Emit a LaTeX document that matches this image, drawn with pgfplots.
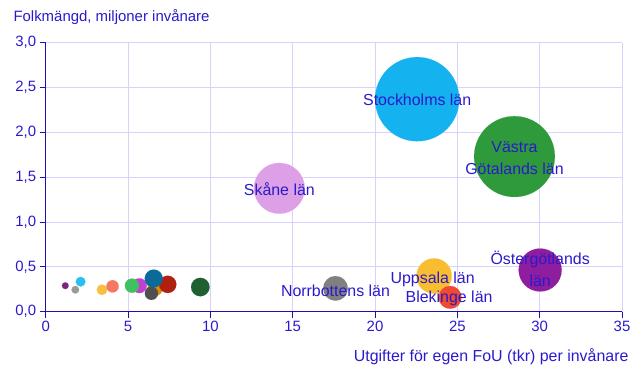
\documentclass[border=0pt]{standalone}
\usepackage{fontspec}
\setmainfont{Liberation Sans}
\usepackage{pgfplots}
\pgfplotsset{compat=1.18}
\definecolor{txt}{HTML}{2A1ACB}
\definecolor{axc}{HTML}{1E0FAF}
\definecolor{grd}{HTML}{D9D2FF}
\definecolor{cSth}{HTML}{14B2EE}
\definecolor{cVG}{HTML}{2F9A3C}
\definecolor{cSk}{HTML}{DDA0E6}
\definecolor{cOg}{HTML}{8E1E9E}
\definecolor{cUp}{HTML}{F8BE30}
\definecolor{cBl}{HTML}{F04A30}
\definecolor{cNb}{HTML}{808080}
\definecolor{cA}{HTML}{7B2481}
\definecolor{cB}{HTML}{9A9A9A}
\definecolor{cC}{HTML}{28C0F0}
\definecolor{cD}{HTML}{F8C040}
\definecolor{cE}{HTML}{F57860}
\definecolor{cF}{HTML}{40C060}
\definecolor{cG}{HTML}{C040D0}
\definecolor{cH}{HTML}{D89000}
\definecolor{cI}{HTML}{505050}
\definecolor{cJ}{HTML}{0A6A98}
\definecolor{cK}{HTML}{B02010}
\definecolor{cL}{HTML}{1E6030}

\pgfplotsset{bub/.style={scatter, only marks, mark=*,
  scatter/use mapped color={draw=#1, fill=#1, line width=0.1pt},
  visualization depends on={5.77*sqrt(\thisrow{z}) \as \rad},
  scatter/@pre marker code/.append style={/tikz/mark size=\rad}}}

\begin{document}
\begin{tikzpicture}[font=\fontsize{15}{18}\selectfont]
\useasboundingbox (-45.7bp,-66.3bp) rectangle (597.3bp,311.7bp);
\begin{axis}[
  at={(0,0)}, anchor=south west,
  scale only axis, width=576.3bp, height=269bp,
  xmin=0, xmax=35, ymin=0, ymax=3,
  xtick={0,5,...,35}, ytick={0,0.5,...,3},
  axis x line*=bottom, axis y line*=left,
  axis line style={axc, line width=1.2pt, -},
  tick align=outside, major tick length=6bp,
  tick style={axc, line width=1pt},
  grid=major, major grid style={grd, line width=0.9pt},
  /pgf/number format/assume math mode=true,
  yticklabel style={/pgf/number format/.cd, use comma, fixed, fixed zerofill, precision=1},
  ticklabel style={txt, font=\fontsize{15}{18}\selectfont},
  xlabel={Utgifter för egen FoU (tkr) per invånare},
  xlabel style={at={(axis description cs:1,0)}, anchor=base east, xshift=10bp, yshift=-50bp, txt, font=\fontsize{16}{19}\selectfont},
  ylabel={Folkmängd, miljoner invånare},
  ylabel style={rotate=-90, at={(axis description cs:0,1)}, anchor=base west, xshift=-35.7bp, yshift=20.7bp, txt},
  table/row sep=\\,
]
% x = FoU per capita (tkr), y = population (millions), z = total FoU (bubble area)
\addplot[bub=cSth] table {x y z\\ 22.56 2.37 53.5\\};
\addplot[bub=cVG]  table {x y z\\ 28.47 1.73 49.3\\};
\addplot[bub=cSk]  table {x y z\\ 14.19 1.376 19.5\\};
\addplot[bub=cOg]  table {x y z\\ 30.03 0.465 13.96\\};
\addplot[bub=cUp]  table {x y z\\ 23.59 0.398 9.39\\};
\addplot[bub=cBl]  table {x y z\\ 24.56 0.16 3.93\\};
\addplot[bub=cNb]  table {x y z\\ 17.60 0.26 4.58\\};
\addplot[bub=cA]   table {x y z\\ 1.19 0.29 0.345\\};
\addplot[bub=cB]   table {x y z\\ 1.80 0.245 0.441\\};
\addplot[bub=cC]   table {x y z\\ 2.12 0.335 0.71\\};
\addplot[bub=cD]   table {x y z\\ 3.42 0.245 0.838\\};
\addplot[bub=cE]   table {x y z\\ 4.06 0.283 1.149\\};
\addplot[bub=cG]   table {x y z\\ 5.69 0.29 1.65\\};
\addplot[bub=cF]   table {x y z\\ 5.24 0.29 1.52\\};
\addplot[bub=cH]   table {x y z\\ 6.64 0.26 1.73\\};
\addplot[bub=cK]   table {x y z\\ 7.41 0.305 2.26\\};
\addplot[bub=cI]   table {x y z\\ 6.42 0.205 1.316\\};
\addplot[bub=cJ]   table {x y z\\ 6.56 0.37 2.43\\};
\addplot[bub=cL]   table {x y z\\ 9.39 0.275 2.58\\};
\coordinate (lSth) at (axis cs:22.56,2.36);
\coordinate (lVG) at (axis cs:28.47,1.71);
\coordinate (lSk) at (axis cs:14.19,1.37);
\coordinate (lOg) at (axis cs:30.03,0.475);
\coordinate (lUp) at (axis cs:23.5,0.36);
\coordinate (lBl) at (axis cs:24.5,0.145);
\coordinate (lNb) at (axis cs:17.6,0.235);
\end{axis}
\begin{scope}[every node/.style={txt, font=\fontsize{16}{22}\selectfont, align=center}]
\node at (lSth) {Stockholms län};
\node at (lVG) {Västra\\Götalands län};
\node at (lSk) {Skåne län};
\node at (lOg) {Östergötlands\\län};
\node at (lUp) {Uppsala län};
\node at (lBl) {Blekinge län};
\node at (lNb) {Norrbottens län};
\end{scope}
\end{tikzpicture}
\end{document}
